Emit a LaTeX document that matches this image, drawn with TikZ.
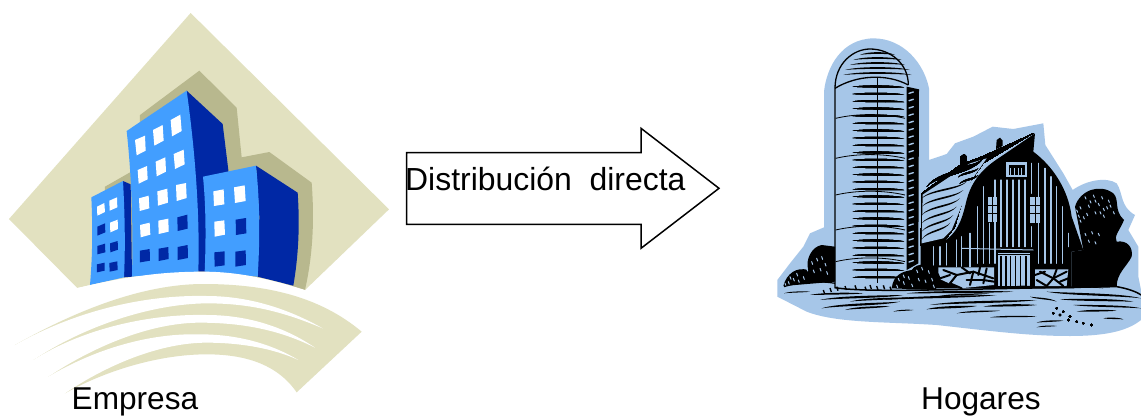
\documentclass[tikz,border=0pt]{standalone}
\usepackage{fontspec}
\setmainfont{Liberation Sans}
\definecolor{cream}{HTML}{E2E1C0}
\definecolor{khaki}{HTML}{B8B88E}
\definecolor{lightb}{HTML}{429EFF}
\definecolor{darkb}{HTML}{0028A5}
\definecolor{sky}{HTML}{A6C6E8}
\newcommand{\quadw}[5]{\fill[#1] #2 -- #3 -- #4 -- #5 -- cycle;}
% tapered stroke: x1 y1 x2 y2 bow half-width
\newcommand{\lens}[6]{%
 \pgfmathsetmacro{\lXa}{#1}\pgfmathsetmacro{\lYa}{#2}\pgfmathsetmacro{\lXb}{#3}\pgfmathsetmacro{\lYb}{#4}%
 \pgfmathsetmacro{\lXp}{\lXa+(\lXb-\lXa)*.2}\pgfmathsetmacro{\lXq}{\lXa+(\lXb-\lXa)*.8}%
 \pgfmathsetmacro{\lYu}{(\lYa+\lYb)/2-(#5)-1.4*(#6)}\pgfmathsetmacro{\lYd}{(\lYa+\lYb)/2-(#5)+1.4*(#6)}%
 \fill (\lXa,\lYa) .. controls (\lXp,\lYu) and (\lXq,\lYu) .. (\lXb,\lYb) .. controls (\lXq,\lYd) and (\lXp,\lYd) .. (\lXa,\lYa);}
\tikzset{lbl/.style={inner sep=0pt,anchor=base west,font=\fontsize{31.6}{36}\selectfont},
 zoomA/.style={x=0.33333pt,y=-0.33333pt},
 zoomB/.style={x=0.33333pt,y=-0.33333pt,shift={(770pt,-30pt)}},
 vline/.style={draw=sky,line width=1.3pt,line cap=round},
 speck/.style={draw=sky,line width=1pt,line cap=round},
 silo/.style={draw=black,line width=1.3pt}}
\begin{document}
\begin{tikzpicture}[x=1pt,y=-1pt]
\useasboundingbox (0,0) rectangle (1141,416);
\fill[white] (0,0) rectangle (1141,416);
% ---------- Empresa ----------
\begin{scope}[zoomA]
\fill[cream] (572,39) -- (1167,628) -- (915,870) .. controls (820,840) and (720,815) .. (610,815) .. controls (500,815) and (400,825) .. (232,864) -- (27,657) -- cycle;
\fill[khaki] (420,345) -- (598,212) -- (710,323) -- (725,472) -- (808,456) -- (935,548) .. controls (945,680) and (935,780) .. (915,870) -- (600,820) -- (315,800) -- (315,560) -- (420,500) -- cycle;
% left building
\fill[darkb] (369,543) -- (392,553) -- (396,830) -- (372,832) -- cycle;
\fill[lightb] (274,592) -- (369,543) .. controls (375,650) and (376,750) .. (372,832) -- (270,855) .. controls (278,760) and (278,680) .. (274,592) -- cycle;
% central building
\fill[darkb] (560,272) -- (668,372) -- (685,510) -- (700,815) -- (595,815) -- cycle;
\fill[lightb] (380,393) -- (560,272) .. controls (585,450) and (600,640) .. (595,815) -- (396,830) .. controls (400,680) and (395,530) .. (380,393) -- cycle;
% right building
\fill[darkb] (768,497) -- (893,578) .. controls (900,680) and (895,770) .. (880,857) -- (773,830) -- (778,650) -- cycle;
\fill[lightb] (609,530) -- (768,497) .. controls (780,610) and (780,720) .. (773,830) -- (614,815) .. controls (618,720) and (618,620) .. (609,530) -- cycle;
% windows
\quadw{white}{(405,420)}{(435,407)}{(437,452)}{(410,466)}
\quadw{white}{(459,390)}{(488,375)}{(491,422)}{(463,437)}
\quadw{white}{(512,360)}{(541,344)}{(545,393)}{(516,409)}
\quadw{white}{(413,510)}{(441,498)}{(443,538)}{(416,551)}
\quadw{white}{(467,485)}{(496,472)}{(498,515)}{(470,529)}
\quadw{white}{(521,462)}{(551,449)}{(554,493)}{(525,507)}
\quadw{white}{(417,595)}{(446,587)}{(448,625)}{(419,633)}
\quadw{white}{(472,574)}{(502,566)}{(504,608)}{(474,617)}
\quadw{white}{(528,555)}{(558,549)}{(560,594)}{(530,603)}
\quadw{white}{(420,675)}{(449,668)}{(451,704)}{(422,712)}
\quadw{white}{(475,662)}{(505,656)}{(506,695)}{(476,702)}
\quadw{darkb}{(532,652)}{(562,644)}{(563,686)}{(533,693)}
\quadw{darkb}{(420,752)}{(449,747)}{(450,782)}{(420,787)}
\quadw{darkb}{(476,746)}{(505,741)}{(506,777)}{(476,783)}
\quadw{darkb}{(533,741)}{(563,735)}{(564,774)}{(533,780)}
\quadw{white}{(640,574)}{(671,568)}{(673,613)}{(642,618)}
\quadw{white}{(702,562)}{(734,556)}{(737,603)}{(705,609)}
\quadw{white}{(643,665)}{(673,661)}{(675,704)}{(644,710)}
\quadw{darkb}{(707,659)}{(738,654)}{(739,700)}{(708,705)}
\quadw{darkb}{(643,757)}{(674,754)}{(674,796)}{(644,800)}
\quadw{darkb}{(706,755)}{(737,751)}{(738,795)}{(706,800)}
\quadw{white}{(291,620)}{(313,609)}{(315,636)}{(292,647)}
\quadw{white}{(328,602)}{(351,592)}{(352,622)}{(329,632)}
\quadw{darkb}{(292,680)}{(315,670)}{(316,697)}{(292,707)}
\quadw{white}{(330,668)}{(353,659)}{(354,687)}{(331,697)}
\quadw{darkb}{(292,738)}{(315,731)}{(316,757)}{(292,763)}
\quadw{darkb}{(330,730)}{(353,723)}{(354,749)}{(331,757)}
\quadw{darkb}{(291,793)}{(314,788)}{(314,812)}{(291,817)}
\quadw{darkb}{(328,789)}{(352,784)}{(353,810)}{(329,815)}
% white ground cut
\fill[white] (150,880) -- (232,864) .. controls (400,825) and (500,815) .. (610,815) .. controls (720,815) and (820,840) .. (915,870) -- (1000,900) -- (150,900) -- cycle;
% swoosh
\fill[cream] (45,1035) .. controls (230,930) and (430,852) .. (610,852) .. controls (800,852) and (960,890) .. (1085,995) -- (890,1177) .. controls (830,1090) and (730,1063) .. (620,1063) .. controls (480,1063) and (320,1110) .. (195,1180) -- (145,1130) -- (100,1080) -- cycle;
\fill[white] (45,1035) .. controls (240,925) and (450,884) .. (620,888) .. controls (760,888) and (880,935) .. (968,985) .. controls (850,935) and (750,910) .. (620,910) .. controls (450,912) and (250,980) .. (100,1080) -- (60,1100) -- (20,1050) -- cycle;
\fill[white] (100,1080) .. controls (250,985) and (450,941) .. (620,945) .. controls (750,945) and (860,985) .. (945,1043) .. controls (850,995) and (740,968) .. (600,968) .. controls (450,968) and (280,1040) .. (145,1130) -- (110,1150) -- (70,1100) -- cycle;
\fill[white] (145,1130) .. controls (290,1045) and (450,999) .. (600,1003) .. controls (720,1003) and (820,1035) .. (895,1080) .. controls (820,1045) and (720,1028) .. (620,1028) .. controls (480,1028) and (320,1095) .. (195,1180) -- (160,1200) -- (120,1150) -- cycle;
\end{scope}
% ---------- Hogares ----------
\begin{scope}[zoomB]
\fill[sky] (162,185) .. controls (170,110) and (215,27) .. (310,25) .. controls (400,25) and (462,100) .. (477,175) -- (477,390) -- (530,372) -- (555,340) -- (610,320) -- (668,290) -- (730,297) -- (820,280) -- (826,345) -- (880,430) -- (908,480) .. controls (950,450) and (1010,440) .. (1040,460) .. controls (1060,490) and (1050,530) .. (1095,555) -- (1075,600) -- (1105,650) -- (1105,740) -- (1113,780) -- (1113,870) .. controls (1070,905) and (1000,918) .. (900,918) .. controls (780,918) and (680,905) .. (500,885) .. controls (350,875) and (200,880) .. (110,845) -- (22,800) -- (22,750) -- (60,700) -- (100,650) -- (120,610) -- (162,592) -- cycle;
% silo
\fill[black] (410,170) -- (447,178) -- (445,700) -- (410,720) -- cycle;
\foreach \y in {190,212,...,700} \draw[vline,line width=1.4pt] (417,\y) -- (430,\y-4);
\draw[silo] (195,775) -- (195,175) .. controls (195,100) and (250,57) .. (300,57) .. controls (360,57) and (415,100) .. (415,165);
\draw[silo] (195,175) .. controls (260,135) and (350,130) .. (415,165);
\draw[black,line width=1.6pt] (323,140) -- (323,760);
\foreach \y in {265,385,495,600,695} \draw[black,line width=.8pt] (197,\y) .. controls (260,\y-15) and (340,\y-15) .. (405,\y);
\foreach \y/\a in {75/270,90/250,105/240,120/225,135/220} \lens{\a}{\y}{645-\a}{\y}{8}{2.5}
\foreach \y in {170,192,...,760} \lens{248}{\y}{402}{\y+2}{2}{3}
% side roof of the barn
\fill[black] (455,490) -- (570,405) -- (640,378) -- (790,310) -- (640,400) -- (590,470) -- (555,590) -- (525,630) -- (452,645) -- cycle;
\fill[sky] (458,494) -- (600,400) -- (650,385) -- (605,450) -- (570,540) -- (545,600) -- (520,625) -- (455,640) -- cycle;
\foreach \y in {505,530,555,580,605,628} \lens{455}{\y}{590-(\y-505)*.4}{\y-50}{1}{2.5}
\foreach \y in {425,445,465} \lens{560+(\y-425)*.2}{\y-3}{625}{\y-30}{0}{2.5}
\lens{470}{470}{640}{385}{0}{5}
% bumps on the roof
\fill[black] (570,405) -- (572,380) -- (582,372) -- (590,380) -- (588,398) -- cycle;
\fill[black] (678,358) -- (680,330) -- (690,323) -- (698,332) -- (698,348) -- cycle;
% barn body
\fill[black] (795,310) -- (790,365) .. controls (850,410) and (895,480) .. (905,560) -- (940,660) -- (905,665) -- (905,775) -- (452,775) -- (452,645) -- (530,628) .. controls (570,600) and (580,550) .. (590,510) .. controls (610,430) and (670,395) .. (700,375) -- cycle;
\foreach \x/\a/\b in {622/530/700,640/470/700,658/580/700,675/450/700,693/450/650,711/450/650,729/450/650,747/450/650,765/450/650,784/400/490,784/590/650,805/400/700,825/415/700,843/440/700,860/470/700,878/530/700,895/610/650,560/630/710,575/620/710,600/610/710,490/650/705,510/650/705,530/640/705}
  \draw[vline] (\x,\a) -- (\x,\b);
\draw[sky,line width=1pt] (575,655) -- (790,660);
\fill[sky] (685,670) rectangle (780,768);
\foreach \x in {693,708,722,737,752,768} \draw[black,line width=1.2pt] (\x,678) -- (\x,768);
\draw[black,line width=.8pt] (685,672) -- (780,672);
% windows
\fill[sky] (708,397) rectangle (772,442);
\fill[black] (716,405) rectangle (765,435);
\foreach \x in {722,733,744,755} \draw[sky,line width=.8pt] (\x,415) -- (\x,438);
\fill[sky] (653,502) rectangle (682,575);
\fill[sky] (780,502) rectangle (810,580);
\foreach \x in {667,795} \draw[black,line width=.7pt] (\x,502) -- (\x,578);
\foreach \y in {525,550} \draw[black,line width=.7pt] (653,\y) -- (682,\y) (780,\y) -- (810,\y);
% stones
\fill[sky] (505,712) -- (672,712) -- (672,765) -- (570,775) -- (505,745) -- cycle;
\fill[sky] (795,718) -- (895,718) -- (890,768) -- (795,768) -- cycle;
\foreach \a/\b/\c/\d in {520/720/560/735, 560/735/540/760, 560/735/610/725, 610/725/600/765, 610/725/670/745, 540/760/575/775, 650/715/640/760, 590/750/640/750, 810/725/850/745, 850/745/890/725, 850/745/830/768, 800/750/830/768, 850/745/880/768, 860/718/850/745, 575/712/600/730, 630/712/625/735, 510/745/540/735, 640/750/672/755, 795/735/825/725, 870/755/895/745}
  \draw[black,line width=2pt,line cap=round] (\a,\b) -- (\c,\d);
% tree
\fill[black] (915,530) .. controls (930,480) and (990,460) .. (1030,490) .. controls (1050,510) and (1030,540) .. (1062,570) .. controls (1050,600) and (1030,620) .. (1040,635) .. controls (1070,630) and (1090,650) .. (1085,680) .. controls (1070,710) and (1040,730) .. (1040,770) -- (905,775) -- (905,665) -- (940,660) -- cycle;
\foreach \x/\y in {945/500,970/495,995/500,1015/510,930/530,955/525,985/520,1010/530,1030/545,925/555,950/550,975/545,1000/555,945/610,965/605,985/610,955/630,975/635,930/570,1000/535,960/512,920/540,940/560,1020/525,990/545,975/510}
  \draw[speck] (\x,\y) -- ++(3,7);
% bushes
\fill[black] (40,768) .. controls (50,730) and (80,710) .. (115,720) .. controls (105,690) and (125,650) .. (155,645) -- (195,650) -- (195,755) -- cycle;
\foreach \x/\y in {55/755,70/745,85/750,100/740,125/695,140/685,155/680,165/700,130/720,150/715,170/725,60/740,80/730,45/760,110/715}
  \draw[speck] (\x,\y) -- ++(3,8);
\fill[black] (365,775) .. controls (370,735) and (395,725) .. (425,720) .. controls (440,695) and (490,700) .. (500,725) .. controls (520,740) and (510,775) .. (490,780) -- cycle;
\foreach \x/\y in {385/745,400/755,415/740,440/720,455/712,475/722,445/745,465/750,485/745,380/765,425/762,400/735,490/765}
  \draw[speck] (\x,\y) -- ++(3,8);
% ground
\draw[black,line width=1.2pt] (42,770) .. controls (90,755) and (150,752) .. (195,760);
\draw[black,line width=1.5pt] (195,773) .. controls (300,790) and (600,775) .. (1040,770) .. controls (1070,775) and (1100,785) .. (1113,795);
\foreach \a/\b in {200/770,225/768,255/766,285/770,300/765,320/768,340/766,360/770,180/774,160/780}
  \draw[black,line width=1.4pt] (\a,\b) -- ++(4,12);
\foreach \a/\b/\c/\d/\w in {42/790/120/785/1.5,120/795/280/790/2.5,150/810/400/795/3,155/835/390/815/3,225/840/360/828/2.5,370/845/430/840/1.5,410/790/730/785/3,340/810/680/795/3,480/825/800/810/3,470/838/620/828/3,560/850/690/842/2,640/830/800/825/3,660/862/800/860/2,830/785/1113/805/3,870/808/1090/815/3,910/825/1113/835/2.5,920/845/1040/842/2.5,800/878/880/872/2,800/892/860/888/1.5,1000/865/1060/868/2,730/770/790/770/1.5,900/770/1000/775/1.5,780/800/860/815/2,240/815/420/802/2.5,500/800/660/790/2}
  \lens{\a}{\b}{\c}{\d}{2}{\w}
\foreach \x/\y in {860/835,880/845,870/855,900/860,920/875,940/880,895/870,965/885,850/850}
  \fill[black] (\x,\y) circle (1.2pt);
\end{scope}
% ---------- arrow ----------
\draw[black,line width=1.5pt,fill=white,miter limit=10] (406.7,152.7) -- (641,152.7) -- (641,128.3) -- (719,188.3) -- (641,248.3) -- (641,224.3) -- (406.7,224.3) -- cycle;
\node[lbl,font=\fontsize{31.9}{36}\selectfont] (dist) at (405,190) {Distribución\hspace{.56em}directa};
\node[lbl] (emp) at (71.5,409) {Empresa};
\node[lbl] (hog) at (921,409) {Hogares};
\end{tikzpicture}
\end{document}
